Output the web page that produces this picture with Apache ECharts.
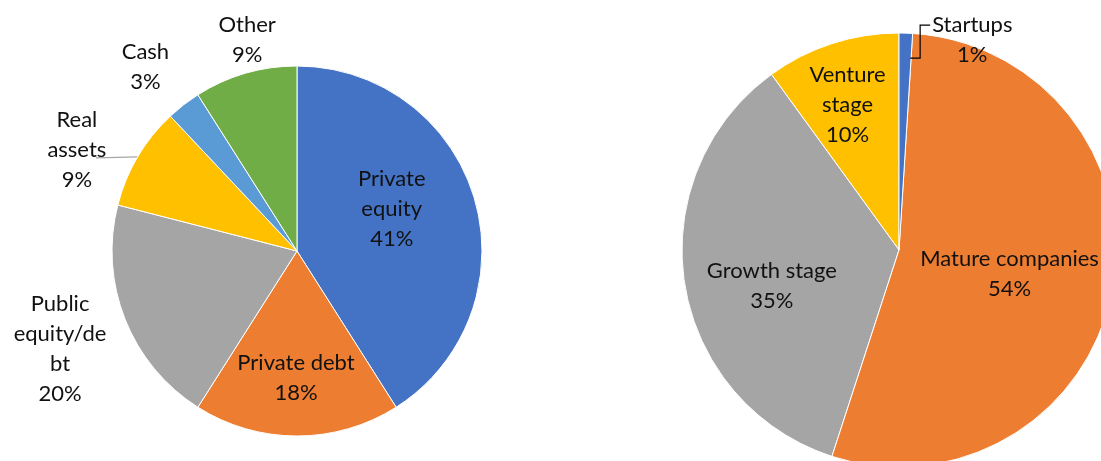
<!DOCTYPE html>
<html><head><meta charset="utf-8">
<script src="https://cdn.jsdelivr.net/npm/echarts@6/dist/echarts.min.js"></script>
<style>html,body{margin:0;padding:0;background:#fff}#c{width:1101px;height:461px}</style>
</head><body><div id="c"></div>
<script>
// Data (left pie clockwise from 12 o'clock; right pie counter-clockwise from 12 o'clock)
const leftNames = ['Private\nequity', 'Private debt', 'Public\nequity/de\nbt', 'Real\nassets', 'Cash', 'Other'];
const leftValues = [41, 18, 20, 9, 3, 9];
const rightNames = ['Venture\nstage', 'Growth stage', 'Mature companies', 'Startups'];
const rightValues = [10, 35, 54, 1];

// Styles / layout
const leftColors = ['#4472C4', '#ED7D31', '#A5A5A5', '#FFC000', '#5B9BD5', '#70AD47'];
const rightColors = ['#FFC000', '#A5A5A5', '#ED7D31', '#4472C4'];
const leftLabelPos = ['inside', 'inside', 'outside', 'outside', 'outside', 'outside'];
const leftLine = [false, false, false, true, false, false];
const rightLabelPos = ['inside', 'inside', 'inside', 'outside'];
const rightLine = [false, false, false, true];
const leftShift = [[3, -15], [-1, 31], [-31, 24], [-28, 1], [-9, -26], [26, -19]];
const rightShift = [[-17, -39], [-17, 18], [1, 3], [46, 22]];

const LH = 30;
const labelFont = { fontFamily: 'Lato', fontSize: 22, lineHeight: LH, color: '#111' };
const fmt = p => p.name + '\n' + Math.round(p.percent) + '%';

function buildData(names, values, colors, pos, lines, lineColor, labelFilter, transparent) {
  return names.map((n, i) => ({
    name: n,
    value: values[i],
    itemStyle: { color: transparent ? 'rgba(0,0,0,0)' : colors[i] },
    label: { position: pos[i], show: labelFilter(i) },
    labelLine: { show: lines[i] && labelFilter(i), lineStyle: { color: lineColor, width: 1.2 } }
  }));
}

// shift labels, centre them, and re-route leader lines
function makeLayout(shift, lineKind) {
  return p => {
    const s = shift[p.dataIndex];
    const out = { dx: s[0], dy: s[1], align: 'center' };
    const r = p.labelRect;
    const pts = p.labelLinePoints;
    if (pts && lineKind[p.dataIndex]) {
      const anchorX = p.align === 'left' ? r.x : (p.align === 'right' ? r.x + r.width : r.x + r.width / 2);
      const cx = anchorX + s[0];
      const firstY = r.y + s[1] + LH / 2;
      if (lineKind[p.dataIndex] === 'elbow') {
        const endX = cx - r.width / 2 - 2;
        out.labelLinePoints = [
          [endX - 20, firstY + 33],
          [endX - 10, firstY + 33],
          [endX - 10, firstY],
          [endX, firstY]
        ];
      } else {
        out.labelLinePoints = [pts[0], [cx + 19, pts[0][1] + 1]];
      }
    }
    return out;
  };
}

const rightBase = {
  type: 'pie',
  center: [899, 250],
  radius: 217,
  startAngle: 90,
  clockwise: false,
  avoidLabelOverlap: false,
  emphasis: { disabled: true },
  label: Object.assign({ formatter: fmt }, labelFont),
  labelLine: { length: 15, length2: 15 },
  labelLayout: makeLayout(rightShift, [null, null, null, 'elbow'])
};

const chart = echarts.init(document.getElementById('c'), null, { renderer: 'canvas' });
chart.setOption({
  animation: false,
  backgroundColor: '#fff',
  series: [
    {
      type: 'pie',
      center: [297, 251],
      radius: 185,
      startAngle: 90,
      clockwise: true,
      avoidLabelOverlap: false,
      emphasis: { disabled: true },
      itemStyle: { borderColor: '#fff', borderWidth: 1 },
      label: Object.assign({ formatter: fmt }, labelFont),
      labelLine: { length: 15, length2: 15 },
      labelLayout: makeLayout(leftShift, [null, null, null, 'straight', null, null]),
      data: buildData(leftNames, leftValues, leftColors, leftLabelPos, leftLine, '#A6A6A6', () => true, false)
    },
    Object.assign({}, rightBase, {
      z: 2,
      itemStyle: { borderColor: '#fff', borderWidth: 1 },
      data: buildData(rightNames, rightValues, rightColors, rightLabelPos, rightLine, '#000', i => rightLabelPos[i] === 'inside', false)
    }),
    Object.assign({}, rightBase, {
      z: 5,
      silent: true,
      itemStyle: { borderWidth: 0 },
      data: buildData(rightNames, rightValues, rightColors, rightLabelPos, rightLine, '#000', i => rightLabelPos[i] === 'outside', true)
    })
  ]
});
</script>
</body></html>
